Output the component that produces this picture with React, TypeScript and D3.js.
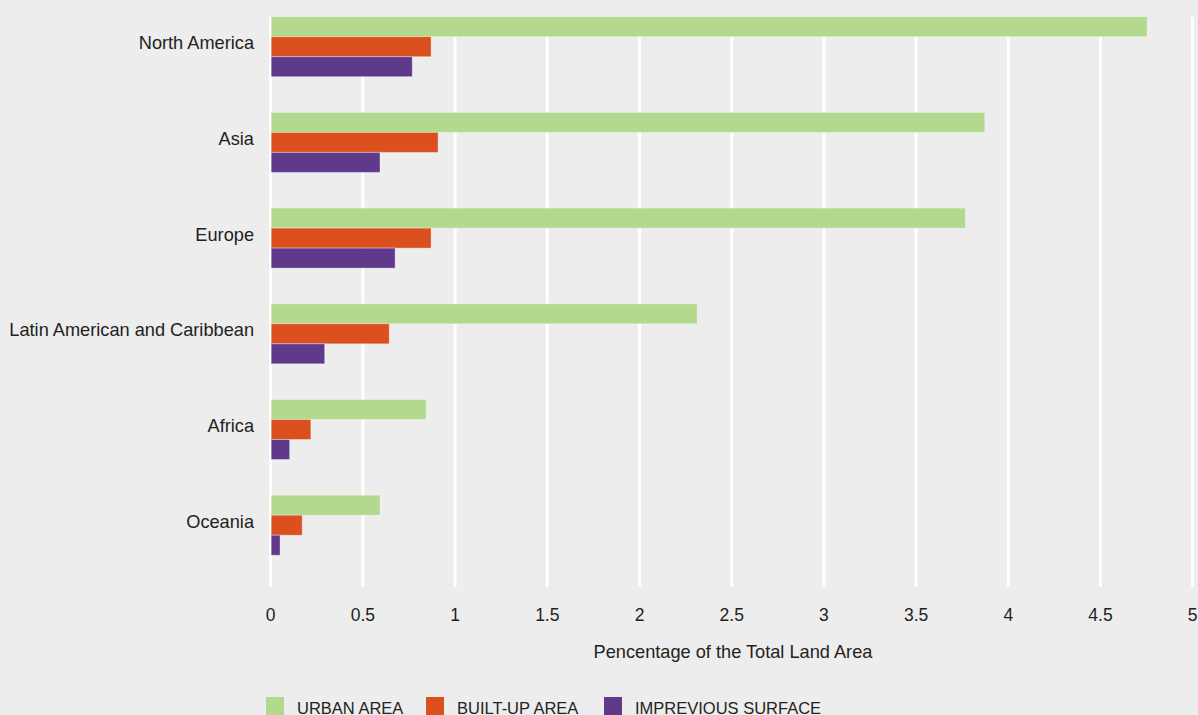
import React from "react";
import * as d3 from "d3";

const regions = ["North America", "Asia", "Europe", "Latin American and Caribbean", "Africa", "Oceania"];
const seriesNames = ["URBAN AREA", "BUILT-UP AREA", "IMPREVIOUS SURFACE"];
const urbanArea = [4.75, 3.87, 3.765, 2.31, 0.84, 0.59];
const builtUpArea = [0.867, 0.905, 0.867, 0.64, 0.215, 0.168];
const imperviousSurface = [0.765, 0.59, 0.672, 0.29, 0.1, 0.048];
const xTicks = [0, 0.5, 1, 1.5, 2, 2.5, 3, 3.5, 4, 4.5, 5];
const colors = ["#b2d98d", "#dc4f1f", "#5f3a8b"];

const W = 1198;
const H = 715;

export default function App() {
  const series = [urbanArea, builtUpArea, imperviousSurface];
  const x = d3.scaleLinear().domain([0, 5]).range([270.7, 1192.7]);
  const step = 95.7;
  const groupH = 60;
  const y = d3
    .scaleBand<string>()
    .domain(regions)
    .range([16.7, 16.7 + step * 5 + groupH])
    .paddingInner(1 - groupH / step)
    .paddingOuter(0)
    .align(0);
  const sub = d3.scaleBand<number>().domain([0, 1, 2]).range([0, y.bandwidth()]);
  const fmt = (d: number) => d3.format("")(d);
  const legendX = [266, 426, 604];
  const font = "Liberation Sans, Arial, Helvetica, sans-serif";

  return (
    <svg width={W} height={H} style={{ position: "absolute", left: 0, top: 0, display: "block" }} fontFamily={font}>
      <rect x={0} y={0} width={W} height={H} fill="#ededed" />
      {xTicks.map((t) => (
        <line key={"g" + t} x1={x(t)} x2={x(t)} y1={16.7} y2={587} stroke="#ffffff" strokeWidth={3} />
      ))}
      {regions.map((r, i) => (
        <g key={r}>
          {series.map((s, j) => (
            <rect
              key={j}
              x={x(0) + 0.5}
              y={(y(r) as number) + (sub(j) as number)}
              width={x(s[i]) - x(0)}
              height={sub.bandwidth()}
              fill={colors[j]}
              stroke="rgba(255,255,255,0.35)"
              strokeWidth={1}
            />
          ))}
          <text
            x={254}
            y={(y(r) as number) + y.bandwidth() / 2 - 3.5}
            textAnchor="end"
            dominantBaseline="central"
            fontSize={18.2}
            fill="#222"
          >
            {r}
          </text>
        </g>
      ))}
      {xTicks.map((t) => (
        <text key={"t" + t} x={x(t)} y={621} textAnchor="middle" fontSize={17.5} fill="#222">
          {fmt(t)}
        </text>
      ))}
      <text x={733} y={657.5} textAnchor="middle" fontSize={18.2} fill="#222">
        Pencentage of the Total Land Area
      </text>
      {seriesNames.map((n, j) => (
        <g key={n}>
          <rect x={legendX[j]} y={697} width={18} height={18} fill={colors[j]} />
          <text x={legendX[j] + 31} y={713.5} fontSize={16.5} fill="#222">
            {n}
          </text>
        </g>
      ))}
    </svg>
  );
}
